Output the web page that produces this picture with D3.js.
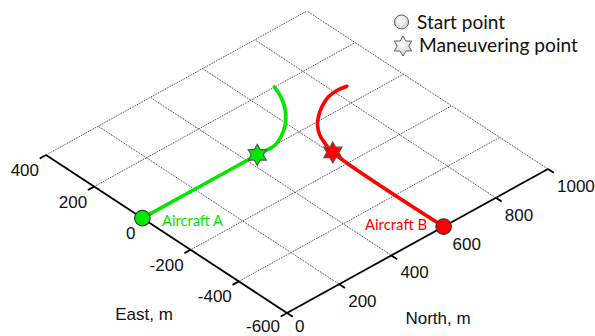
<!DOCTYPE html>
<html>
<head>
<meta charset="utf-8">
<script src="https://cdn.jsdelivr.net/npm/d3@7"></script>
<style>
  html, body { margin: 0; padding: 0; background: #fff; }
  svg { display: block; }
</style>
</head>
<body>
<svg id="chart" width="595" height="336"></svg>
<script>
// Ground-plane coordinates (metres)
const eastTicks = [-600, -400, -200, 0, 200, 400];
const northTicks = [0, 200, 400, 600, 800, 1000];

// Aircraft A track: straight north, then turning east
const aEast  = [0, 0, 0, 21, 49, 82, 119, 161, 201];
const aNorth = [0, 440, 508, 553, 592, 625, 653, 676, 691];
const aManeuver = 1;

// Aircraft B track: straight east, then turning north
const bEast  = [-600, -135, -90, -52, -13, 14, 42, 64, 70, 66];
const bNorth = [600, 605, 617, 632, 659, 687, 726, 771, 810, 844];
const bManeuver = 1;

const legendItems = ["Start point", "Maneuvering point"];

const svg = d3.select("#chart");

// Oblique projection of the (East, North) plane onto the page
const eastX  = d3.scaleLinear().domain([-600, 400]).range([287, 46]);
const eastY  = d3.scaleLinear().domain([-600, 400]).range([313, 155]);
const northX = d3.scaleLinear().domain([0, 1000]).range([0, 261]);
const northY = d3.scaleLinear().domain([0, 1000]).range([0, -144]);
const proj = (e, n) => [eastX(e) + northX(n), eastY(e) + northY(n)];

const eMin = d3.min(eastTicks), eMax = d3.max(eastTicks);
const nMin = d3.min(northTicks), nMax = d3.max(northTicks);

const straight = d3.line();

// Grid
const grid = svg.append("g")
  .attr("fill", "none")
  .attr("stroke", "#1e1e1e")
  .attr("stroke-width", 0.9)
  .attr("stroke-dasharray", "1,1");
eastTicks.filter(e => e !== eMin).forEach(e => {
  grid.append("path").attr("d", straight([proj(e, nMin), proj(e, nMax)]));
});
northTicks.filter(n => n !== nMin).forEach(n => {
  grid.append("path").attr("d", straight([proj(eMin, n), proj(eMax, n)]));
});

// Axes
const axes = svg.append("g").attr("stroke", "#000").attr("stroke-width", 1.8).attr("fill", "none");
axes.append("path").attr("d", straight([proj(eMax, nMin), proj(eMin, nMin)]));
axes.append("path").attr("d", straight([proj(eMin, nMin), proj(eMin, nMax)]));
const tickLen = 24;
eastTicks.forEach(e => {
  axes.append("path").attr("d", straight([proj(e, nMin), proj(e, nMin - tickLen)]));
});
northTicks.forEach(n => {
  axes.append("path").attr("d", straight([proj(eMin, n), proj(eMin - tickLen, n)]));
});

// Tick labels; the two at the shared corner sit a little higher to stay on the page
const labelFont = "'Liberation Sans', Arial, sans-serif";
const tickLabels = svg.append("g").attr("font-family", labelFont).attr("font-size", 17).attr("fill", "#111");
eastTicks.forEach(e => {
  const [x, y] = proj(e, nMin);
  tickLabels.append("text").attr("x", x - 7).attr("y", y + (e === eMin ? 19 : 21))
    .attr("text-anchor", "end").text(e);
});
northTicks.forEach(n => {
  const [x, y] = proj(eMin, n);
  tickLabels.append("text").attr("x", x + (n === nMin ? 8 : 9)).attr("y", y + (n === nMin ? 19 : 23)).text(n);
});
tickLabels.append("text").attr("x", 144).attr("y", 320).attr("text-anchor", "middle").text("East, m");
tickLabels.append("text").attr("x", 438).attr("y", 324).attr("text-anchor", "middle").text("North, m");

// Tracks
const green = "#00e800", red = "#ff0000";
const tracks = [
  { east: aEast, north: aNorth, man: aManeuver, color: green },
  { east: bEast, north: bNorth, man: bManeuver, color: red }
];
const trackLine = d3.line().curve(d3.curveCatmullRom.alpha(0.5));
tracks.forEach(t => {
  const pts = t.east.map((e, i) => proj(e, t.north[i]));
  svg.append("path").attr("d", trackLine(pts))
    .attr("fill", "none").attr("stroke", t.color).attr("stroke-width", 3.6)
    .attr("stroke-linecap", "round");
});

// Six-pointed star
function hexagram(cx, cy, R) {
  const r = R / Math.sqrt(3);
  const pts = d3.range(12).map(k => {
    const a = -Math.PI / 2 + k * Math.PI / 6;
    const rad = k % 2 === 0 ? R : r;
    return [cx + rad * Math.cos(a), cy + rad * Math.sin(a)];
  });
  return d3.line()(pts) + "Z";
}

tracks.forEach(t => {
  const [sx, sy] = proj(t.east[0], t.north[0]);
  svg.append("circle").attr("cx", sx).attr("cy", sy).attr("r", 7.8)
    .attr("fill", t.color).attr("stroke", "#333").attr("stroke-width", 1.1);
  const [mx, my] = proj(t.east[t.man], t.north[t.man]);
  svg.append("path").attr("d", hexagram(mx, my, 10.5))
    .attr("fill", t.color).attr("stroke", "#555").attr("stroke-width", 1.1);
});

// Track names
const nameFont = "Lato, 'Open Sans', sans-serif";
svg.append("text").attr("x", 162).attr("y", 226).attr("font-family", nameFont)
  .attr("font-size", 14.5).attr("fill", green).attr("textLength", 61)
  .attr("lengthAdjust", "spacingAndGlyphs").text("Aircraft A");
svg.append("text").attr("x", 365).attr("y", 230).attr("font-family", nameFont)
  .attr("font-size", 14.5).attr("fill", red).attr("textLength", 62)
  .attr("lengthAdjust", "spacingAndGlyphs").text("Aircraft B");

// Legend
const defs = svg.append("defs");
const grad = defs.append("radialGradient").attr("id", "legendFill")
  .attr("cx", "40%").attr("cy", "35%").attr("r", "70%");
grad.append("stop").attr("offset", "0%").attr("stop-color", "#ffffff");
grad.append("stop").attr("offset", "100%").attr("stop-color", "#cfcfcf");

const legend = svg.append("g");
legend.append("circle").attr("cx", 401.5).attr("cy", 22).attr("r", 7)
  .attr("fill", "url(#legendFill)").attr("stroke", "#555").attr("stroke-width", 1);
legend.append("path").attr("d", hexagram(403, 46, 10))
  .attr("fill", "url(#legendFill)").attr("stroke", "#666").attr("stroke-width", 1);
const legendY = [29, 52], legendX = [417, 419], legendW = [88, 159];
legendItems.forEach((txt, i) => {
  legend.append("text").attr("x", legendX[i]).attr("y", legendY[i])
    .attr("font-family", nameFont).attr("font-size", 19.5).attr("fill", "#111")
    .attr("textLength", legendW[i]).attr("lengthAdjust", "spacingAndGlyphs").text(txt);
});
</script>
</body>
</html>
